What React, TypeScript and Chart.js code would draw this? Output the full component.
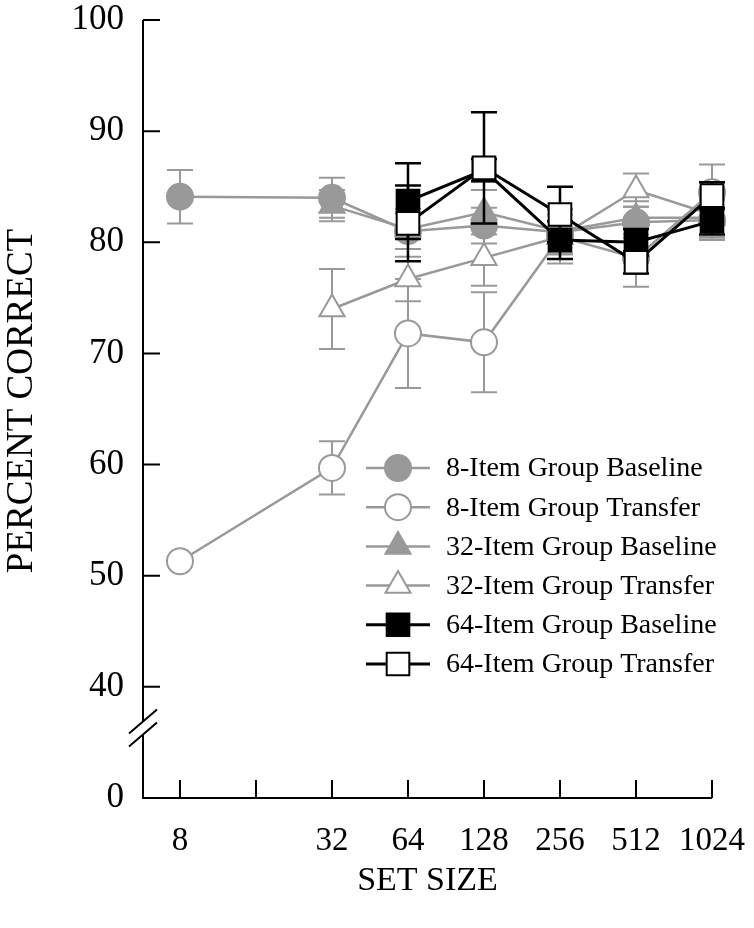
import React, { useEffect, useRef } from 'react';
import { Chart, registerables } from 'chart.js';

Chart.register(...registerables);

// ---- data ----
const sizes8 = [8, 32, 64, 128, 256, 512, 1024];
const sizes32 = [32, 64, 128, 256, 512, 1024];
const sizes64 = [64, 128, 256, 512, 1024];

const base8 = [84.1, 84.0, 81.0, 81.5, 80.9, 81.8, 82.0];
const base8Err = [2.4, 1.8, 1.6, 1.6, 2.0, 1.4, 1.8];
const trans8 = [51.3, 59.7, 71.8, 71.0, 80.5, 78.6, 84.5];
const trans8Err = [0.4, 2.4, 4.9, 4.5, 2.4, 2.6, 2.5];
const base32 = [83.3, 81.2, 82.7, 81.0, 82.2, 82.2];
const base32Err = [1.4, 1.8, 2.0, 2.0, 1.5, 1.8];
const trans32 = [74.0, 76.7, 78.6, 80.5, 84.7, 82.5];
const trans32Err = [3.6, 2.0, 2.5, 2.0, 1.5, 2.0];
const base64 = [83.7, 86.5, 80.2, 80.0, 81.9];
const base64Err = [3.4, 1.0, 1.7, 1.2, 1.2];
const trans64 = [81.7, 86.7, 82.5, 78.2, 84.2];
const trans64Err = [3.4, 5.0, 2.5, 1.0, 1.2];

const seriesLabels = [
  '8-Item Group Baseline',
  '8-Item Group Transfer',
  '32-Item Group Baseline',
  '32-Item Group Transfer',
  '64-Item Group Baseline',
  '64-Item Group Transfer',
];

const xTickValues = [8, 16, 32, 64, 128, 256, 512, 1024];
const xTickLabels = ['8', '', '32', '64', '128', '256', '512', '1024'];
const yTickValues = [30, 40, 50, 60, 70, 80, 90, 100];
const yTickLabels = ['0', '40', '50', '60', '70', '80', '90', '100'];
const breakValue = 36.3;

const xTitle = 'SET SIZE';
const yTitle = 'PERCENT CORRECT';

const GRAY = '#999999';
const BLACK = '#000000';
const WHITE = '#ffffff';
const FONT = "'Liberation Serif', 'Times New Roman', serif";

type Style = { shape: 'circle' | 'triangle' | 'rect'; fill: string; stroke: string; lineColor: string; radius: number; lineWidth: number };

const styles: Style[] = [
  { shape: 'circle', fill: GRAY, stroke: GRAY, lineColor: GRAY, radius: 13, lineWidth: 2.5 },
  { shape: 'circle', fill: WHITE, stroke: GRAY, lineColor: GRAY, radius: 13, lineWidth: 2.5 },
  { shape: 'triangle', fill: GRAY, stroke: GRAY, lineColor: GRAY, radius: 14.5, lineWidth: 2.5 },
  { shape: 'triangle', fill: WHITE, stroke: GRAY, lineColor: GRAY, radius: 14.5, lineWidth: 2.5 },
  { shape: 'rect', fill: BLACK, stroke: BLACK, lineColor: BLACK, radius: 16, lineWidth: 3 },
  { shape: 'rect', fill: WHITE, stroke: BLACK, lineColor: BLACK, radius: 16, lineWidth: 3 },
];

const seriesX = [sizes8, sizes8, sizes32, sizes32, sizes64, sizes64];
const seriesY = [base8, trans8, base32, trans32, base64, trans64];
const seriesErr = [base8Err, trans8Err, base32Err, trans32Err, base64Err, trans64Err];
const drawOrder = [2, 5, 3, 4, 1, 0];

function drawMarker(ctx: CanvasRenderingContext2D, s: Style, x: number, y: number) {
  ctx.save();
  ctx.beginPath();
  const r = s.radius;
  if (s.shape === 'circle') {
    ctx.arc(x, y, r, 0, Math.PI * 2);
  } else if (s.shape === 'triangle') {
    const w = r * Math.sin(Math.PI / 3);
    ctx.moveTo(x, y - r);
    ctx.lineTo(x + w, y + r / 2);
    ctx.lineTo(x - w, y + r / 2);
    ctx.closePath();
  } else {
    const h = Math.SQRT1_2 * r;
    ctx.rect(x - h, y - h, 2 * h, 2 * h);
  }
  ctx.fillStyle = s.fill;
  ctx.fill();
  ctx.lineWidth = 2;
  ctx.strokeStyle = s.stroke;
  ctx.stroke();
  ctx.restore();
}

const errorBarPlugin = {
  id: 'errorBars',
  beforeDatasetDraw(chart: any, args: any) {
    const ds = chart.data.datasets[args.index];
    const errs: number[] = ds.errors;
    if (!errs) return;
    const meta = args.meta;
    const yScale = chart.scales.y;
    const ctx = chart.ctx;
    ctx.save();
    ctx.strokeStyle = ds.borderColor;
    ctx.lineWidth = ds.borderColor === BLACK ? 2.5 : 2;
    meta.data.forEach((pt: any, i: number) => {
      const v = ds.data[i].y;
      const e = errs[i];
      const yt = yScale.getPixelForValue(v + e);
      const yb = yScale.getPixelForValue(v - e);
      const cap = 13;
      ctx.beginPath();
      ctx.moveTo(pt.x, yt);
      ctx.lineTo(pt.x, yb);
      ctx.moveTo(pt.x - cap, yt);
      ctx.lineTo(pt.x + cap, yt);
      ctx.moveTo(pt.x - cap, yb);
      ctx.lineTo(pt.x + cap, yb);
      ctx.stroke();
    });
    ctx.restore();
  },
};

const axesPlugin = {
  id: 'axesDraw',
  beforeDatasetsDraw(chart: any) {
    const { ctx, chartArea } = chart;
    const xs = chart.scales.x;
    const ys = chart.scales.y;
    const L = chartArea.left;
    const B = chartArea.bottom;
    ctx.save();
    ctx.strokeStyle = BLACK;
    ctx.lineWidth = 2;
    ctx.beginPath();
    ctx.moveTo(L, chartArea.top);
    ctx.lineTo(L, B);
    ctx.lineTo(chartArea.right, B);
    ctx.stroke();
    ctx.beginPath();
    yTickValues.forEach((v) => {
      const y = ys.getPixelForValue(v);
      ctx.moveTo(L, y);
      ctx.lineTo(L + 17, y);
    });
    xTickValues.forEach((v) => {
      const x = xs.getPixelForValue(v);
      ctx.moveTo(x, B);
      ctx.lineTo(x, B - 18);
    });
    ctx.stroke();
    // axis break
    const yb = ys.getPixelForValue(breakValue);
    const dx = 14, dy = 12, gap = 6.5;
    ctx.fillStyle = WHITE;
    ctx.beginPath();
    ctx.moveTo(L - dx, yb - gap + dy);
    ctx.lineTo(L + dx, yb - gap - dy);
    ctx.lineTo(L + dx, yb + gap - dy);
    ctx.lineTo(L - dx, yb + gap + dy);
    ctx.closePath();
    ctx.fill();
    ctx.beginPath();
    ctx.moveTo(L - dx, yb - gap + dy);
    ctx.lineTo(L + dx, yb - gap - dy);
    ctx.moveTo(L - dx, yb + gap + dy);
    ctx.lineTo(L + dx, yb + gap - dy);
    ctx.stroke();
    ctx.restore();
  },
};

const overlayPlugin = {
  id: 'overlay',
  afterDraw(chart: any) {
    const { ctx, chartArea } = chart;
    ctx.save();
    // titles
    ctx.fillStyle = BLACK;
    ctx.font = `34px ${FONT}`;
    ctx.textAlign = 'center';
    ctx.textBaseline = 'middle';
    ctx.fillText(xTitle, (chartArea.left + chartArea.right) / 2, 881);
    ctx.save();
    ctx.font = `37px ${FONT}`;
    ctx.translate(22, 401);
    ctx.rotate(-Math.PI / 2);
    ctx.fillText(yTitle, 0, 0);
    ctx.restore();
    // legend
    const x0 = 366, x1 = 430, mx = 398, tx = 446, y0 = 468, dyRow = 39.2;
    ctx.font = `28px ${FONT}`;
    ctx.textAlign = 'left';
    seriesLabels.forEach((lab, i) => {
      const s = styles[i];
      const y = y0 + i * dyRow;
      ctx.strokeStyle = s.lineColor;
      ctx.lineWidth = s.lineWidth;
      ctx.beginPath();
      ctx.moveTo(x0, y);
      ctx.lineTo(x1, y);
      ctx.stroke();
      drawMarker(ctx, s, mx, y);
      ctx.fillStyle = BLACK;
      ctx.fillText(lab, tx, y + 1);
    });
    ctx.restore();
  },
};

export default function App() {
  const ref = useRef<HTMLCanvasElement | null>(null);
  useEffect(() => {
    if (!ref.current) return;
    const datasets = seriesLabels.map((label, i) => {
      const s = styles[i];
      return {
        label,
        data: seriesX[i].map((x, j) => ({ x, y: seriesY[i][j] })),
        errors: seriesErr[i],
        borderColor: s.lineColor,
        borderWidth: s.lineWidth,
        backgroundColor: s.fill,
        pointStyle: s.shape,
        pointRadius: s.radius,
        pointHoverRadius: s.radius,
        pointBackgroundColor: s.fill,
        pointBorderColor: s.stroke,
        pointBorderWidth: 2,
        tension: 0,
        fill: false,
        clip: false,
        order: drawOrder[i],
      } as any;
    });
    const chart = new Chart(ref.current, {
      type: 'line',
      data: { datasets },
      options: {
        animation: false,
        responsive: false,
        events: [],
        layout: { padding: { top: 20, right: 42, left: 0, bottom: 0 } },
        plugins: { legend: { display: false }, tooltip: { enabled: false } },
        scales: {
          x: {
            type: 'logarithmic',
            min: 5.71,
            max: 1024,
            grid: { display: false, drawTicks: false },
            border: { display: false },
            afterBuildTicks: (s: any) => {
              s.ticks = xTickValues.map((v) => ({ value: v }));
            },
            afterFit: (s: any) => {
              s.height = 130;
              s.paddingLeft = 0;
              s.paddingRight = 0;
            },
            ticks: {
              callback: (_v: any, i: number) => xTickLabels[i],
              autoSkip: false,
              maxRotation: 0,
              minRotation: 0,
              padding: 24,
              color: BLACK,
              font: { family: FONT, size: 33 },
            },
          },
          y: {
            type: 'linear',
            min: 30,
            max: 100,
            grid: { display: false, drawTicks: false },
            border: { display: false },
            afterBuildTicks: (s: any) => {
              s.ticks = yTickValues.map((v) => ({ value: v }));
            },
            afterFit: (s: any) => {
              s.width = 143;
              s.paddingTop = 0;
              s.paddingBottom = 0;
            },
            ticks: {
              callback: (_v: any, i: number) => yTickLabels[i],
              autoSkip: false,
              padding: 19,
              color: BLACK,
              font: { family: FONT, size: 35 },
            },
          },
        },
      } as any,
      plugins: [axesPlugin, errorBarPlugin, overlayPlugin],
    });
    return () => chart.destroy();
  }, []);
  return (
    <div style={{ position: 'absolute', left: 0, top: 0, width: 754, height: 928, background: '#fff' }}>
      <canvas ref={ref} width={754} height={928} style={{ width: 754, height: 928, display: 'block' }} />
    </div>
  );
}
